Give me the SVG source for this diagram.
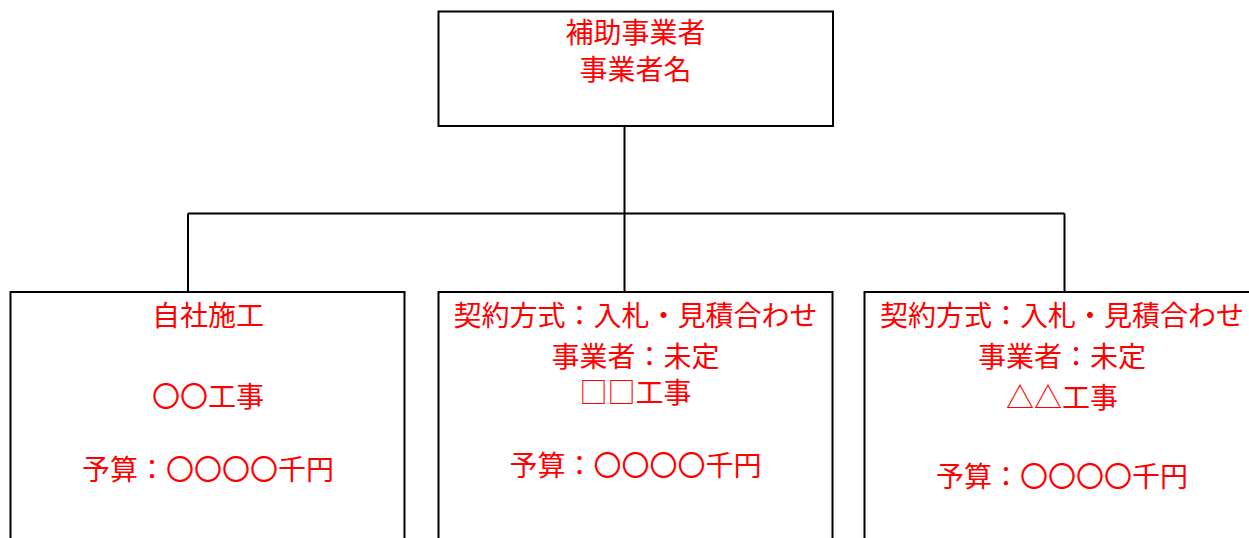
<svg xmlns="http://www.w3.org/2000/svg" width="1249" height="538" viewBox="0 0 1249 538">
<style>
.box{fill:#fff;stroke:#000;stroke-width:2}
.con{fill:none;stroke:#000;stroke-width:2}
text{font-family:"Noto Sans CJK JP","Noto Sans CJK SC",sans-serif;font-size:28px;fill:#ff0000;text-anchor:middle}
</style>
<rect width="1249" height="538" fill="#fff"/>
<g id="connectors">
<path class="con" d="M624.5 126V213.5M188 213.5H1064.5M188 213.5V292M624.5 213.5V292M1064.5 213.5V292"/>
</g>
<g id="top">
<rect class="box" x="438.5" y="11.5" width="394.5" height="114.5"/>
<text x="635.5" y="42.5">補助事業者</text>
<text x="635.5" y="79.5">事業者名</text>
</g>
<g id="left">
<rect class="box" x="10.5" y="292" width="394" height="260"/>
<text x="208" y="325.5">自社施工</text>
<text x="208" y="406.5">〇〇工事</text>
<text x="208" y="480">予算：〇〇〇〇千円</text>
</g>
<g id="middle">
<rect class="box" x="438.5" y="292" width="394" height="260"/>
<text x="635.5" y="325.5">契約方式：入札・見積合わせ</text>
<text x="635.5" y="367">事業者：未定</text>
<text x="635.5" y="403">□□工事</text>
<text x="635.5" y="475.5">予算：〇〇〇〇千円</text>
</g>
<g id="right">
<rect class="box" x="864.5" y="292" width="396" height="260"/>
<text x="1062" y="325.5">契約方式：入札・見積合わせ</text>
<text x="1062" y="367">事業者：未定</text>
<text x="1062" y="407.5">△△工事</text>
<text x="1062" y="487">予算：〇〇〇〇千円</text>
</g>
</svg>
